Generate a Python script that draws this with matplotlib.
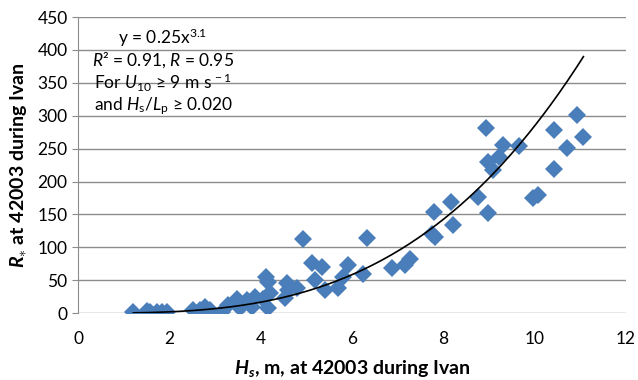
import matplotlib
matplotlib.use("Agg")
import matplotlib.pyplot as plt
import numpy as np

plt.rcParams["font.family"] = ["Lato", "DejaVu Sans"]
plt.rcParams["mathtext.fontset"] = "custom"
plt.rcParams["mathtext.rm"] = "Lato"
plt.rcParams["mathtext.it"] = "Lato:italic"
plt.rcParams["mathtext.bf"] = "Lato:bold"
plt.rcParams["mathtext.bfit"] = "Lato:italic:bold"

# Hs (m) and R*
hs = [1.21, 1.51, 1.58, 1.73, 1.84, 1.95,
      2.52, 2.68, 2.74, 2.79, 2.89,
      3.16, 3.29, 3.49, 3.55, 3.70, 3.80, 3.88, 4.06, 4.12, 4.16, 4.17, 4.21,
      4.54, 4.58, 4.61, 4.80, 4.93, 5.13, 5.35, 5.20, 5.42, 5.70, 5.81, 5.92,
      6.25, 6.34, 6.87, 7.17, 7.28, 7.76, 7.83, 7.79, 8.16, 8.22, 8.77, 8.99,
      8.93, 8.97, 9.08, 9.21, 9.30, 9.65, 9.96, 10.07, 10.42, 10.94, 11.07,
      10.70, 10.42]
rstar = [1, 3, 1, 2, 1, 2,
         4, 4, 1, 9, 4,
         1, 12, 22, 8, 20, 10, 25, 22, 55, 48, 8, 30,
         23, 46, 35, 38, 112, 76, 70, 50, 35, 38, 55, 73,
         59, 114, 69, 73, 83, 121, 116, 154, 169, 134, 177, 152,
         281, 230, 218, 237, 255, 254, 175, 179, 278, 301, 267,
         251, 219]

# power-law trendline as drawn on the chart
TREND_A = 0.226
TREND_B = 3.1

fig = plt.figure(figsize=(6.38, 3.80), dpi=100)
ax = fig.add_axes([0.1223, 0.176, 0.8587, 0.779])

ax.set_xlim(0, 12)
ax.set_ylim(0, 450)
ax.set_xticks(np.arange(0, 13, 2))
ax.set_yticks(np.arange(0, 451, 50))
ax.yaxis.grid(True, color="#8c8c8c", linewidth=1.0)
ax.set_axisbelow(True)
for s in ["top", "right", "bottom"]:
    ax.spines[s].set_visible(False)
ax.spines["left"].set_color("#8c8c8c")
ax.tick_params(axis="x", length=0, labelsize=12.5, pad=13)
ax.tick_params(axis="y", length=4, color="#8c8c8c", labelsize=12.5)

ax.plot(hs, rstar, "D", color="#4a7ebb", markersize=9.5, markeredgewidth=0, zorder=3)

xt = np.linspace(min(hs), max(hs), 200)
ax.plot(xt, TREND_A * xt ** TREND_B, color="black", linewidth=1.2, zorder=4)

ax.set_xlabel(r"$\mathbfit{H}_{\mathbfit{s}}$, m, at 42003 during Ivan",
              fontsize=14, fontweight="bold", labelpad=8)
ax.set_ylabel(r"$\mathbfit{R}_{\ast}$ at 42003 during Ivan",
              fontsize=14, fontweight="bold", labelpad=6)

tx = 0.155
ax.text(tx, 0.929, r"y = 0.25x$^{3.1}$", transform=ax.transAxes, ha="center", va="center", fontsize=12.5)
ax.text(tx, 0.855, r"$R$² = 0.91, $R$ = 0.95", transform=ax.transAxes, ha="center", va="center", fontsize=12.5)
ax.text(tx, 0.777, r"For $U_{10}$ ≥ 9 m s$^{\,-1}$", transform=ax.transAxes, ha="center", va="center", fontsize=12.5)
ax.text(tx, 0.699, r"and $H_{\rm s}/L_{\rm p}$ ≥ 0.020", transform=ax.transAxes, ha="center", va="center", fontsize=12.5)

fig.savefig("out.png", dpi=100)
